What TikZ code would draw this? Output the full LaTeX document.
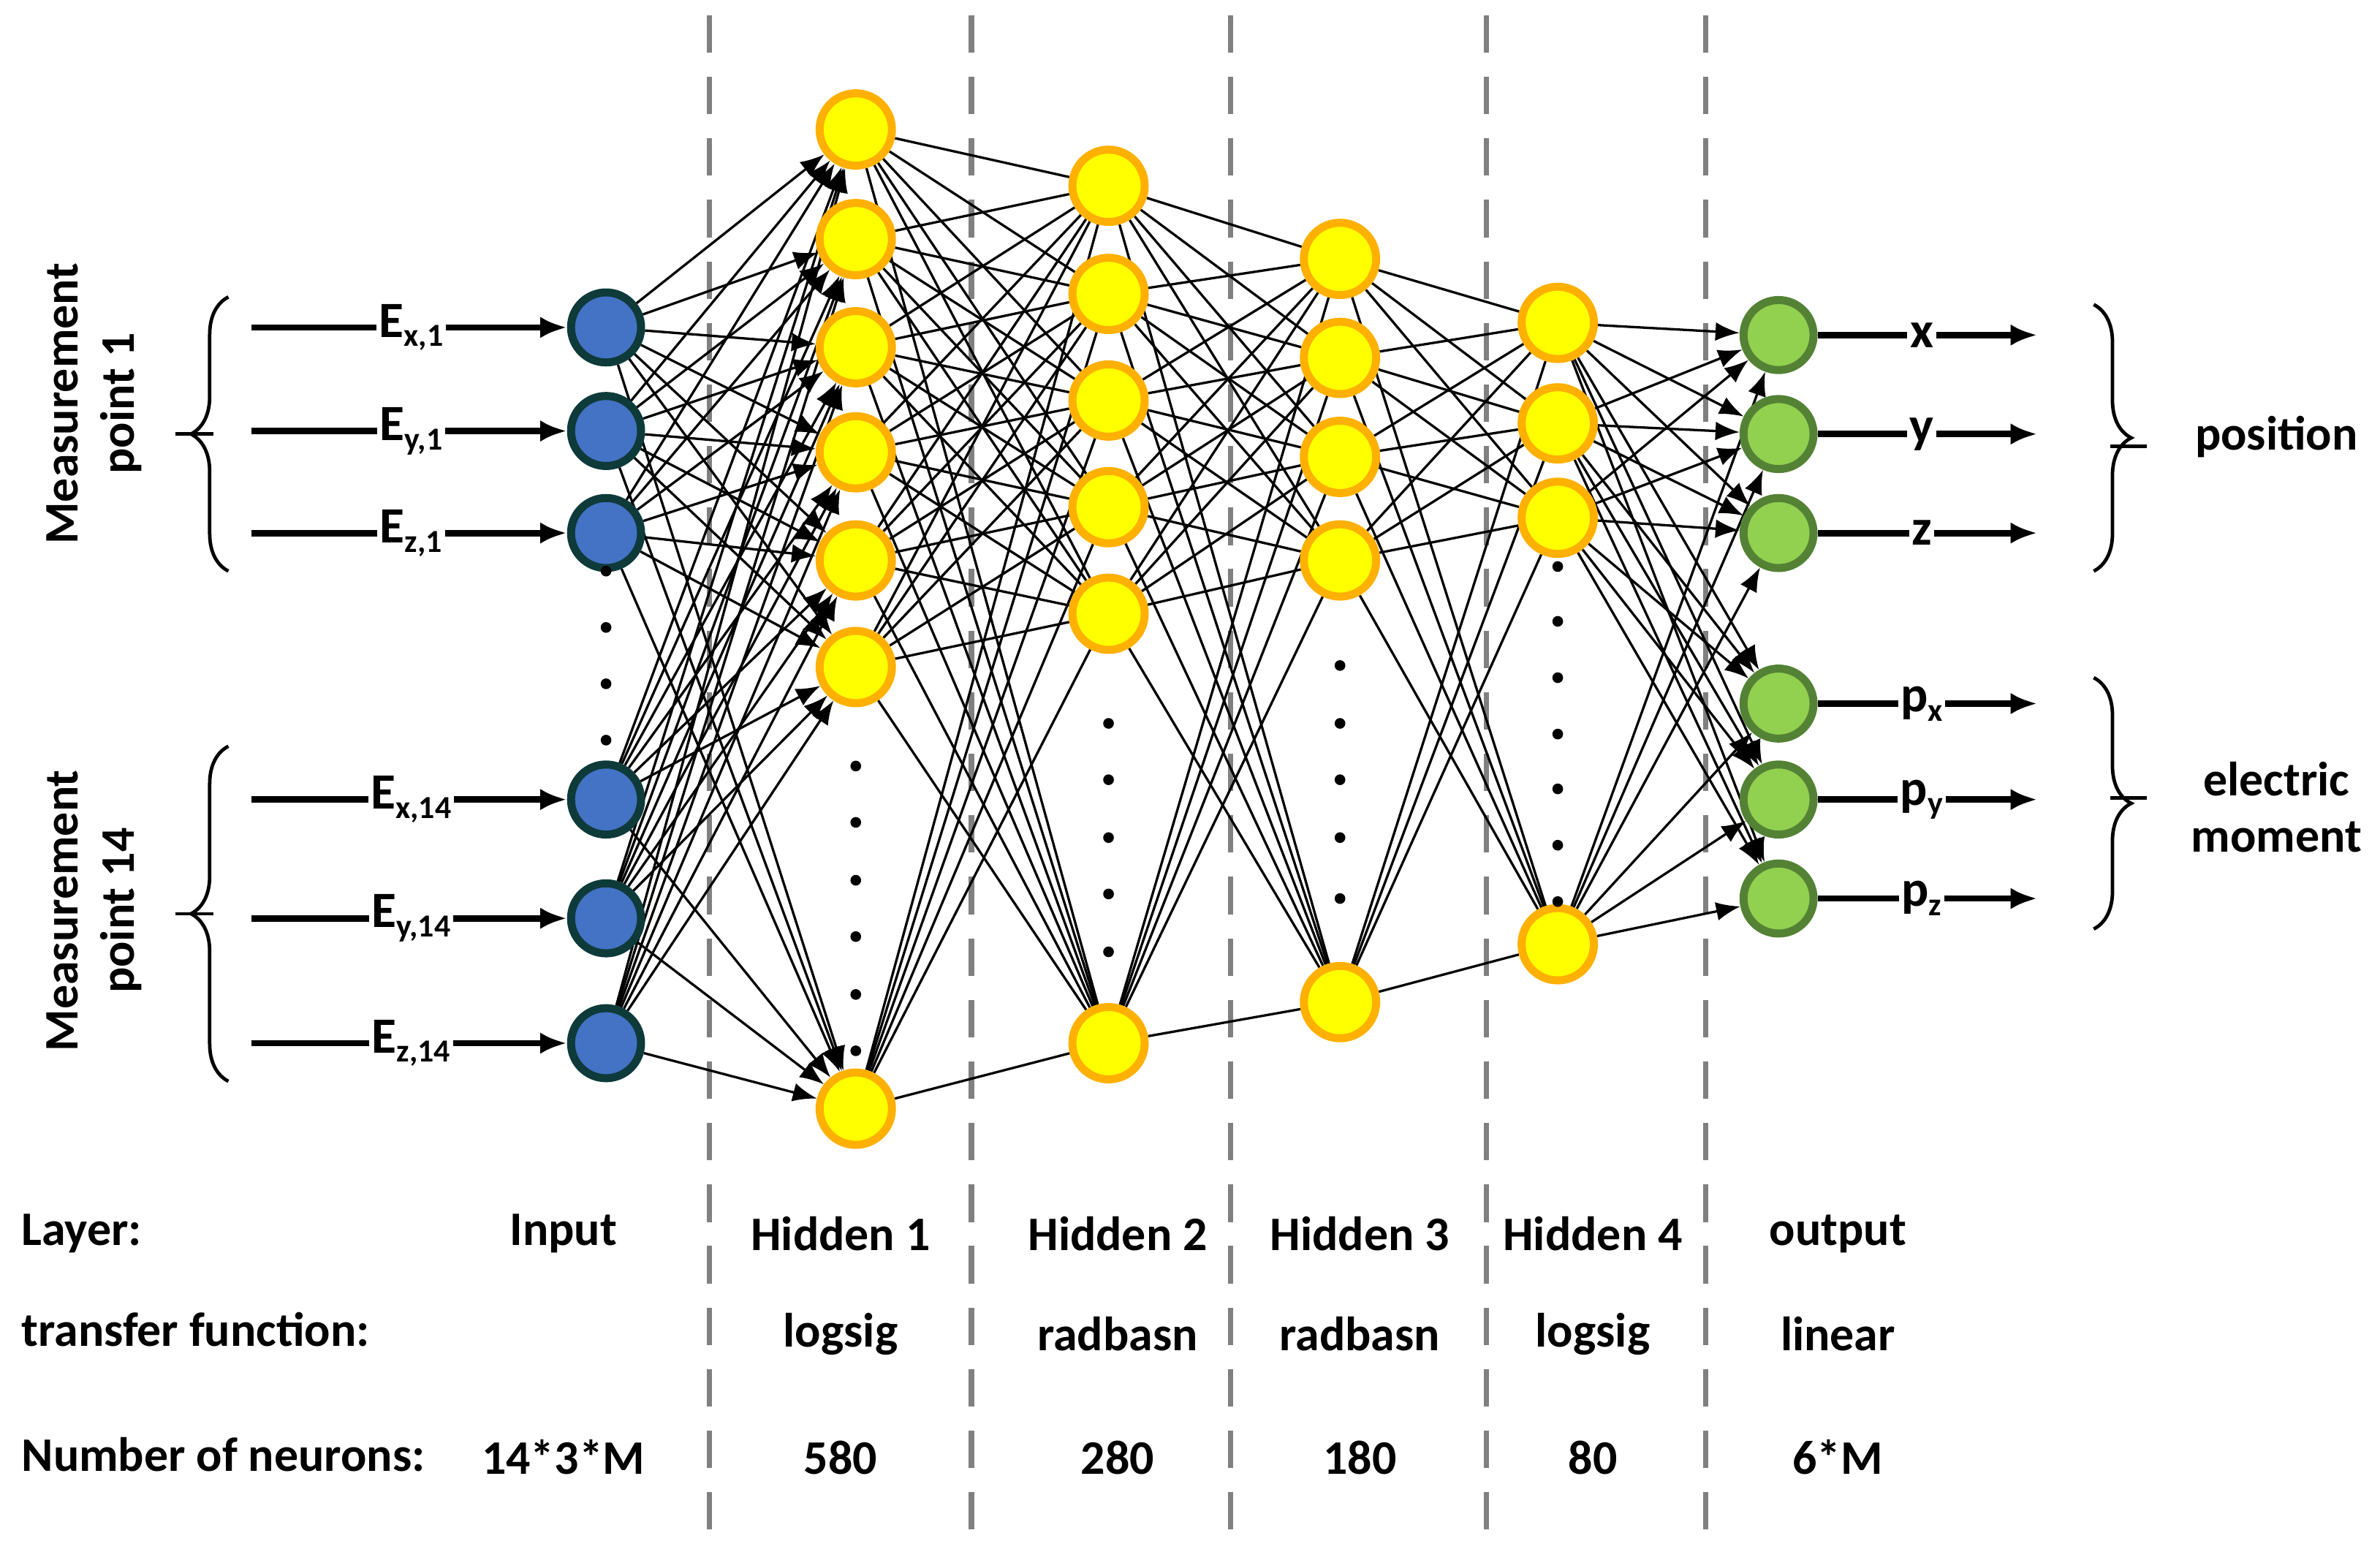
\documentclass[tikz,border=0pt]{standalone}
\usepackage{fontspec}
\setmainfont{Carlito}
\usetikzlibrary{arrows.meta,decorations.pathreplacing,backgrounds}
\definecolor{blu}{HTML}{4472C4}
\definecolor{blb}{HTML}{0E3A3A}
\definecolor{grn}{HTML}{92D050}
\definecolor{grb}{HTML}{548235}
\definecolor{org}{HTML}{FFB000}
\definecolor{yel}{HTML}{FFFF00}
\begin{document}
\begin{tikzpicture}[x=0.02cm,y=-0.02cm,
  inp/.style={circle,draw=blb,fill=blu,line width=3pt,minimum size=0.92cm,inner sep=0},
  hid/.style={circle,draw=org,fill=yel,line width=3pt,minimum size=0.95cm,inner sep=0},
  outn/.style={circle,draw=grb,fill=grn,line width=3pt,minimum size=0.92cm,inner sep=0},
  conn/.style={line width=0.9pt},
  aconn/.style={line width=0.9pt,-{Latex[length=9pt,width=7pt]}},
  big/.style={line width=2.4pt,-{Latex[length=10pt,width=8pt]}},
  lbl/.style={font=\fontsize{18}{21}\selectfont\bfseries},
  sub/.style={fill=white,inner sep=1pt,font=\fontsize{19}{22}\selectfont\bfseries},
  dsh/.style={gray,line width=2pt,dash pattern=on 14pt off 9pt},
  brc/.style={line width=1.3pt,decorate,decoration={brace,amplitude=14pt}},
  dot/.style={circle,fill=black,inner sep=0,minimum size=4pt}]
\useasboundingbox (0,0) rectangle (1563,1019);
\newcommand{\Es}[1]{E{\fontsize{12}{12}\selectfont\raisebox{-0.6ex}{#1}}}
% nodes
\foreach \y [count=\i] in {215,283,350,525,603,685} \node[inp] (i\i) at (398,\y) {};
\foreach \y [count=\i] in {85,157,228,297,368,438,728} \node[hid] (a\i) at (562,\y) {};
\foreach \y [count=\i] in {122,193,263,333,403,685} \node[hid] (b\i) at (728,\y) {};
\foreach \y [count=\i] in {170,235,300,368,658} \node[hid] (c\i) at (880,\y) {};
\foreach \y [count=\i] in {212,278,340,620} \node[hid] (d\i) at (1023,\y) {};
\foreach \y [count=\i] in {220,285,350,462,525,590} \node[outn] (o\i) at (1168,\y) {};
% dots
\foreach \y [count=\i] in {375,412,449,486} \node[dot] (ia\i) at (398,\y) {};
\foreach \y [count=\i] in {503,540,578,615,653,690} \node[dot] (aa\i) at (562,\y) {};
\foreach \y [count=\i] in {475,512,550,587,625} \node[dot] (ba\i) at (728,\y) {};
\foreach \y [count=\i] in {437,475,512,550,590} \node[dot] (ca\i) at (880,\y) {};
\foreach \y [count=\i] in {372,408,445,482,518,555,592} \node[dot] (da\i) at (1023,\y) {};
\begin{scope}[on background layer]
\foreach \x in {466,638,808,976,1120} \draw[dsh] (\x,10) -- (\x,1010);
\foreach \i in {1,...,6} \foreach \j in {1,...,7} \draw[aconn] (i\i) -- (a\j);
\foreach \i in {1,...,7} \foreach \j in {1,...,6} \draw[conn] (a\i) -- (b\j);
\foreach \i in {1,...,6} \foreach \j in {1,...,5} \draw[conn] (b\i) -- (c\j);
\foreach \i in {1,...,5} \foreach \j in {1,...,4} \draw[conn] (c\i) -- (d\j);
\foreach \i in {1,...,4} \foreach \j in {1,...,6} \draw[aconn] (d\i) -- (o\j);
\end{scope}
% input arrows
\foreach \i/\t in {1/{x,1},2/{y,1},3/{z,1},4/{x,14},5/{y,14},6/{z,14}} {
  \coordinate (s\i) at (165,0 |- i\i);
  \draw[big] (s\i) -- (i\i);
  \node[sub] (e\i) at (270,0 |- i\i) {\Es{\t}};
}
% output arrows
\foreach \i/\t in {1/x,2/y,3/z,4/{p{\fontsize{12}{12}\selectfont\raisebox{-0.6ex}{x}}},5/{p{\fontsize{12}{12}\selectfont\raisebox{-0.6ex}{y}}},6/{p{\fontsize{12}{12}\selectfont\raisebox{-0.6ex}{z}}}} {
  \coordinate (t\i) at (1338,0 |- o\i);
  \draw[big] (o\i) -- (t\i);
  \node[sub] (x\i) at (1262,0 |- o\i) {\t};
}
% braces
\draw[brc] (150,375) -- (150,195);
\draw[brc] (150,710) -- (150,490);
\draw[line width=1.3pt] (115,285) -- (140,285);
\draw[line width=1.3pt] (115,600) -- (140,600);
\draw[brc] (1375,200) -- (1375,375);
\draw[brc] (1375,445) -- (1375,610);
\draw[line width=1.3pt] (1386,293) -- (1410,293);
\draw[line width=1.3pt] (1386,524) -- (1410,524);
\node[lbl,rotate=90,align=center] (m1) at (62,265) {Measurement\\point 1};
\node[lbl,rotate=90,align=center] (m2) at (62,598) {Measurement\\point 14};
\node[lbl] (pos) at (1495,287) {position};
\node[lbl,align=center] (em) at (1495,530) {electric\\moment};
% bottom table
\node[lbl,anchor=west] (r1) at (8,810) {Layer:};
\node[lbl,anchor=west] (r2) at (8,873) {transfer function:};
\node[lbl,anchor=west] (r3) at (8,955) {Number of neurons:};
\foreach \x/\a/\b/\c in {370/Input//14*3*M,552/Hidden 1/logsig/580,734/Hidden 2/radbasn/280,893/Hidden 3/radbasn/180,1046/Hidden 4/logsig/80,1207/output/linear/6*M} {
  \node[lbl] at (\x,810) {\a};
  \node[lbl] at (\x,876) {\b};
  \node[lbl] at (\x,957) {\c};
}
\end{tikzpicture}
\end{document}
